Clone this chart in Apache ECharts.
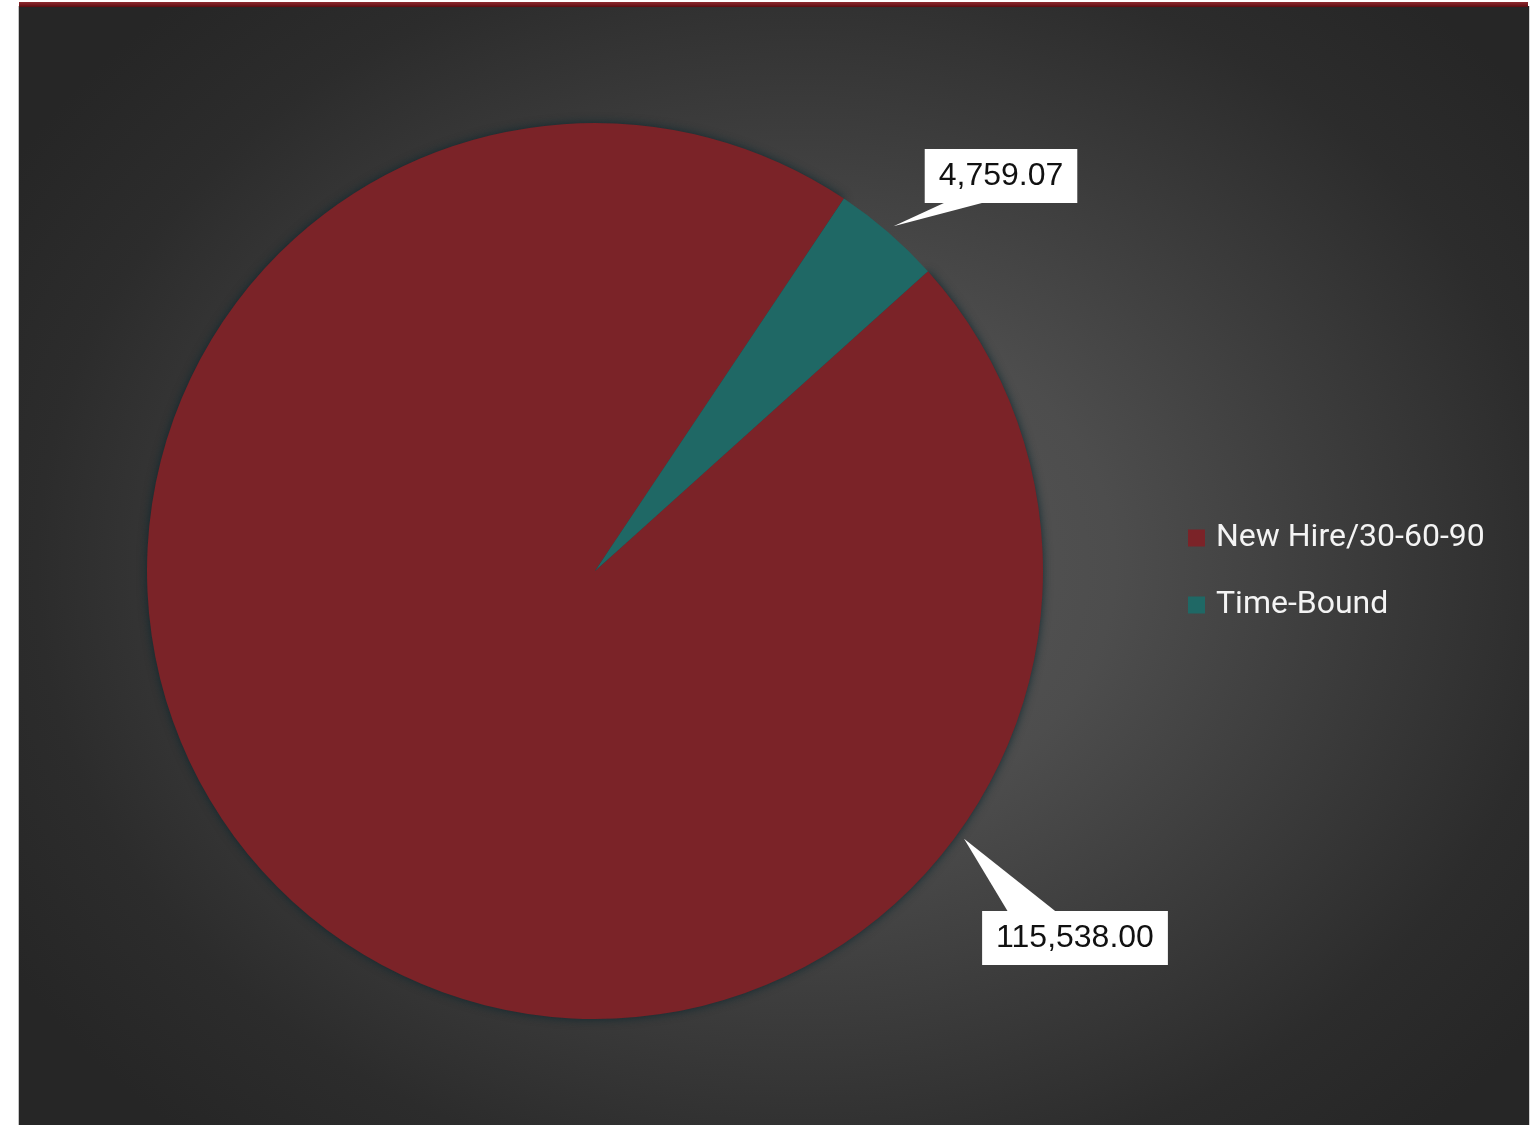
<!DOCTYPE html>
<html>
<head>
<meta charset="utf-8">
<script src="https://cdn.jsdelivr.net/npm/echarts@6/dist/echarts.min.js"></script>
<style>
  html, body { margin: 0; padding: 0; background: #ffffff; }
  #frame {
    position: absolute; left: 18px; top: 6px; width: 1510px; height: 1119px;
    background: radial-gradient(ellipse 930px 760px at 780px 560px,
      #585858 0%, #4d4d4d 34%, #3b3b3b 60%, #2c2c2c 82%, #262626 100%);
    border-left: 1px solid #c4c4c4;
    border-right: 1px solid #d0d0d0;
  }
  #topline {
    position: absolute; left: 19px; top: 2px; width: 1509px; height: 5px;
    background: linear-gradient(#8e2a2f, #5a0c10);
  }
  #chart { position: absolute; left: 0; top: 0; width: 1537px; height: 1125px; }
</style>
</head>
<body>
<div id="frame"></div>
<div id="topline"></div>
<div id="chart"></div>
<script>
// Plan totals by plan type
const categories = ['New Hire/30-60-90', 'Time-Bound'];
const values = [115538.00, 4759.07];
const sliceColors = ['#7b2328', '#1f6865'];

// Pie geometry and callout box centres (px)
const PIE_CENTER = [595, 571];
const PIE_RADIUS = 448;
const START_ANGLE = 42;
const POINTER_REACH = 8;
const calloutCentres = [[1075, 938], [1001, 176]];

const fmt = v => v.toLocaleString('en-US', { minimumFractionDigits: 2, maximumFractionDigits: 2 });

const chart = echarts.init(document.getElementById('chart'), null, { renderer: 'canvas' });
const boxes = [];

chart.setOption({
  backgroundColor: 'transparent',
  animation: false,
  legend: {
    orient: 'vertical',
    left: 1188,
    top: 522,
    padding: 0,
    icon: 'rect',
    itemWidth: 17,
    itemHeight: 17,
    itemGap: 35,
    selectedMode: false,
    textStyle: {
      color: '#f4f4f4',
      fontSize: 32,
      fontFamily: 'Roboto',
      lineHeight: 32,
      padding: [0, 0, 0, 6]
    },
    data: categories
  },
  series: [{
    type: 'pie',
    center: PIE_CENTER,
    radius: PIE_RADIUS,
    startAngle: START_ANGLE,
    clockwise: true,
    avoidLabelOverlap: false,
    silent: true,
    data: categories.map((name, i) => ({
      name,
      value: values[i],
      itemStyle: i === 0
        ? { color: sliceColors[i], shadowBlur: 10, shadowColor: 'rgba(8, 38, 46, 0.85)' }
        : { color: sliceColors[i] }
    })),
    itemStyle: { borderWidth: 0 },
    label: {
      show: true,
      position: 'outside',
      formatter: p => fmt(p.value),
      color: '#111111',
      fontFamily: 'Liberation Sans',
      fontSize: 32,
      lineHeight: 34,
      backgroundColor: '#ffffff',
      padding: [10, 14]
    },
    labelLine: { show: false },
    labelLayout: params => {
      const c = calloutCentres[params.dataIndex];
      const r = params.labelRect;
      boxes[params.dataIndex] = { x: c[0] - r.width / 2, y: c[1] - r.height / 2, w: r.width, h: r.height };
      return { x: c[0], y: c[1], align: 'center', verticalAlign: 'middle' };
    }
  }]
});

// Slice angles (radians, screen space) as laid out by the pie series
function sliceAngles() {
  try {
    const data = chart.getModel().getSeriesByIndex(0).getData();
    const out = categories.map((_, i) => data.getItemLayout(i));
    if (out.every(L => L && isFinite(L.cx) && isFinite(L.startAngle))) return out;
  } catch (e) { /* fall through */ }
  const total = values.reduce((a, b) => a + b, 0);
  let a = -START_ANGLE * Math.PI / 180;
  return values.map(v => {
    const s = a; a += v / total * Math.PI * 2;
    return { cx: PIE_CENTER[0], cy: PIE_CENTER[1], r: PIE_RADIUS, startAngle: s, endAngle: a };
  });
}

// Callout pointers: a white wedge from each box to the slice rim
function drawPointers() {
  const lay = sliceAngles();
  const wedges = lay.map((L, i) => {
    const b = boxes[i] || (() => {
      const c = calloutCentres[i];
      return { x: c[0] - 76, y: c[1] - 27, w: 152, h: 54 };
    })();
    const span = Math.abs(L.endAngle - L.startAngle);
    const bx = b.x + b.w / 2, by = b.y + b.h / 2;
    const ang = span > Math.PI
      ? Math.atan2(by - L.cy, bx - L.cx) - 0.025
      : (L.startAngle + L.endAngle) / 2;
    const reach = L.r + POINTER_REACH;
    const tip = [L.cx + reach * Math.cos(ang), L.cy + reach * Math.sin(ang)];
    const edgeY = tip[1] > by ? b.y + b.h - 1 : b.y + 1;
    return {
      type: 'polygon',
      z: 50,
      silent: true,
      shape: { points: [tip, [b.x + b.w * 0.14, edgeY], [b.x + b.w * 0.40, edgeY]] },
      style: { fill: '#ffffff' }
    };
  });
  chart.setOption({ graphic: { elements: wedges } });
}
drawPointers();
</script>
</body>
</html>
